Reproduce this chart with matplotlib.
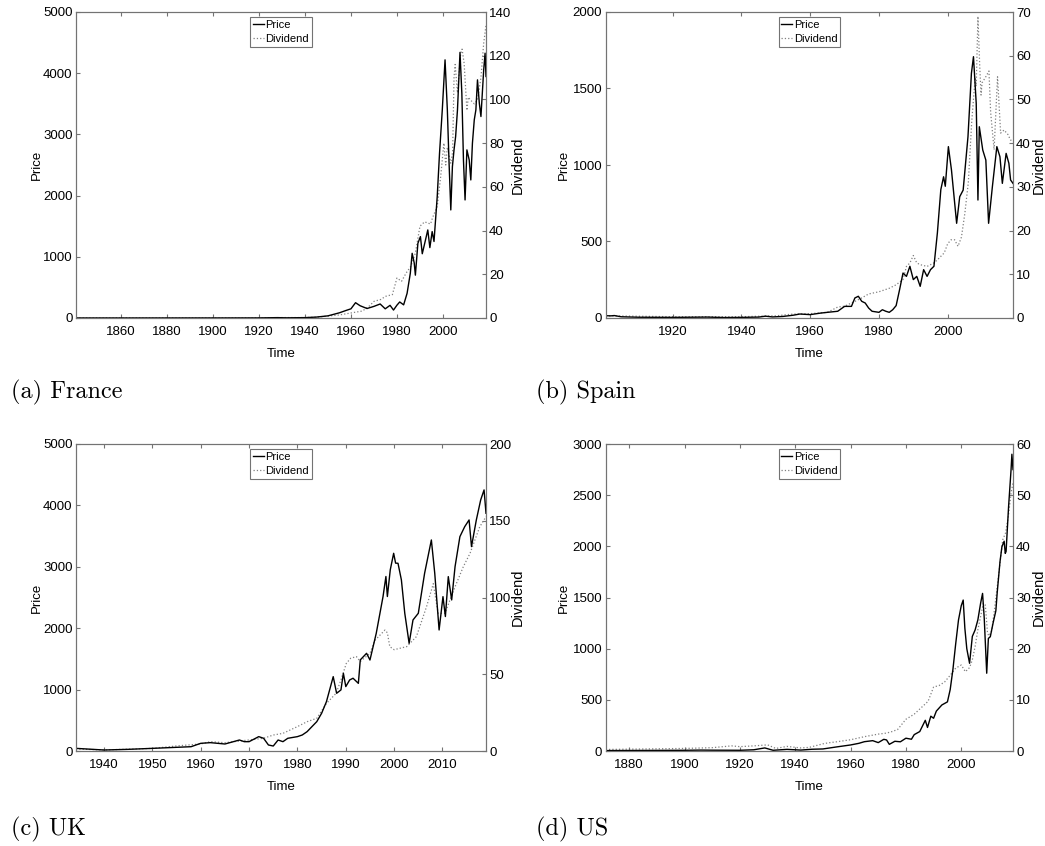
import matplotlib
matplotlib.use('Agg')
import matplotlib.pyplot as plt

# ---- France ----
fr_price_year = [1840.5, 1860, 1880, 1900, 1920, 1928, 1932, 1940, 1945, 1950, 1955, 1958,
                 1960, 1962, 1964, 1967, 1970, 1972.7, 1974.9, 1977, 1978.5, 1980, 1981.2,
                 1982.9, 1984.4, 1985.8, 1986.6, 1987.5, 1988, 1989.1, 1990.2, 1991, 1992.4,
                 1993.4, 1994.3, 1995.3, 1996.1, 1997.5, 1998.5, 1999.7, 2000.9, 2001.9,
                 2002.6, 2003.4, 2004.1, 2004.8, 2005.5, 2006.3, 2007.4, 2008.2, 2008.9,
                 2009.6, 2010.4, 2011.4, 2012.1, 2012.8, 2013.6, 2014.3, 2015, 2015.8,
                 2016.5, 2017.7, 2018.3, 2018.7]
fr_price = [0.3, 0.4, 0.6, 0.8, 1.5, 6, 3, 6, 15, 35, 85, 125,
            150, 250, 200, 155, 190, 229, 150, 207, 130, 210, 262,
            215, 403, 730, 1057, 900, 700, 1221, 1330, 1050, 1275,
            1439, 1150, 1412, 1250, 1984, 2692, 3400, 4218, 3400,
            2583, 1766, 2474, 2747, 2965, 3400, 4340, 3673, 2583,
            1929, 2747, 2583, 2256, 2856, 3237, 3400, 3891, 3510,
            3292, 4055, 4327, 3946]
fr_div_year = [1840.5, 1880, 1920, 1930, 1940, 1945, 1950, 1955, 1960, 1965, 1968, 1970,
               1973, 1975, 1978, 1980, 1982, 1984, 1986, 1988, 1990, 1992, 1994.6, 1995.5,
               1997.5, 1999, 2000.4, 2001.2, 2001.9, 2003.4, 2004.2, 2004.8, 2005.3,
               2006.3, 2007.7, 2008.3, 2009.2, 2010.4, 2011, 2012, 2013.6, 2015, 2016.5,
               2017.7, 2018.7]
fr_div = [0.02, 0.03, 0.05, 0.2, 0.2, 0.4, 0.9, 1.4, 2.3, 3.2, 5.5, 7.6,
          8.5, 9.9, 10.7, 18.3, 16.8, 20.6, 23.6, 29.7, 42, 44, 43, 46,
          51, 64.7, 80, 70, 78, 70.8, 76, 110, 116,
          103, 121, 123, 116.5, 95, 101, 99.7, 98, 99.7, 110,
          125.7, 134]

# ---- Spain ----
es_price_year = [1900.5, 1902, 1903, 1905, 1910, 1920, 1930, 1935, 1940, 1945, 1947, 1949,
                 1952, 1955, 1957, 1960, 1963, 1965, 1968, 1970, 1972, 1973, 1974, 1975,
                 1976, 1977, 1978, 1980, 1981, 1982, 1983, 1984, 1985, 1986, 1987, 1988,
                 1989, 1990, 1991, 1992, 1993, 1994, 1995, 1996, 1997, 1998, 1998.8,
                 1999.3, 2000.2, 2001.1, 2002.6, 2003.5, 2004.5, 2005.9, 2006.9, 2007.5,
                 2008.3, 2008.8, 2009.2, 2010.2, 2011.1, 2011.9, 2013, 2014.3, 2015.2,
                 2015.9, 2017, 2017.8, 2018.3, 2019]
es_price = [15, 14, 16, 8, 5, 4, 6, 3, 4, 6, 12, 7,
            10, 18, 26, 22, 32, 37, 44, 76, 76, 131, 142, 109,
            98, 65, 44, 37, 54, 44, 37, 54, 81, 185, 294, 272,
            338, 251, 272, 207, 316, 272, 316, 338, 556, 839, 923,
            861, 1120, 967, 619, 793, 836, 1185, 1599, 1708,
            1403, 771, 1250, 1098, 1032, 619, 858, 1120, 1054,
            880, 1076, 1011, 902, 880]
es_div_year = [1900.5, 1920, 1940, 1950, 1955, 1960, 1965, 1968, 1970, 1973, 1975, 1977,
               1980, 1983, 1985, 1987, 1988, 1989, 1990, 1991, 1992, 1994, 1996, 1997,
               1998, 1999, 2000, 2001, 2002, 2003, 2004, 2005, 2006, 2007, 2008, 2008.3,
               2008.8, 2009.3, 2009.7, 2010, 2011.1, 2012, 2012.5, 2013.5, 2014.5, 2015.4,
               2016.4, 2017.5, 2018.3, 2019]
es_div = [0.5, 0.3, 0.3, 0.5, 0.9, 1.0, 1.3, 2.5, 2.7, 3.8, 4.6, 5.5,
          6.0, 6.8, 7.6, 8.8, 11.8, 12.6, 14.3, 12.6, 12.2, 11.8, 12.6, 13.3,
          14.1, 14.9, 17, 17.9, 17.9, 16.4, 18.5, 24, 31, 45, 55, 53,
          69, 58, 51, 53.8, 55.2, 56.5, 47, 38.5, 55.2, 42.3,
          43, 42, 40.7, 40.5]

# ---- UK ----
uk_price_year = [1934.2, 1937, 1940, 1945, 1950, 1955, 1958, 1960, 1962, 1965, 1968, 1969,
                 1970, 1972, 1973, 1974, 1975, 1976, 1977, 1978, 1980, 1981, 1982, 1983,
                 1984, 1985, 1986, 1987.4, 1988.1, 1989, 1989.5, 1990, 1990.8, 1991.5,
                 1992.6, 1993, 1994.3, 1995, 1996.3, 1997.7, 1998.3, 1998.6, 1999.2,
                 1999.9, 2000.3, 2000.8, 2001.5, 2002.2, 2003.1, 2003.9, 2005, 2006.3,
                 2007.7, 2008.4, 2009.3, 2010.1, 2010.6, 2011.2, 2011.9, 2012.6, 2013.6,
                 2014.6, 2015.5, 2016, 2017, 2017.9, 2018.6, 2019]
uk_price = [43, 30, 16, 27, 43, 60, 70, 125, 136, 114, 179, 152,
            152, 234, 207, 98, 81, 179, 152, 207, 234, 261, 315, 397,
            478, 614, 804, 1211, 940, 995, 1266, 1049, 1157, 1185,
            1102, 1484, 1591, 1482, 1917, 2514, 2842, 2516, 2951,
            3220, 3060, 3057, 2786, 2243, 1754, 2134, 2243, 2894,
            3437, 2894, 1971, 2514, 2190, 2840, 2460, 3003, 3491,
            3654, 3763, 3329, 3763, 4089, 4252, 3872]
uk_div_year = [1934.2, 1940, 1950, 1955, 1960, 1962, 1965, 1970, 1973, 1975, 1977, 1980,
               1982, 1984, 1986, 1988, 1989, 1990.1, 1991, 1992.2, 1993, 1995, 1996,
               1998.1, 1998.6, 1999.1, 2000, 2002.6, 2004.6, 2006.7, 2008.1, 2009.1,
               2010.5, 2012.6, 2014.3, 2015.7, 2017.7, 2019]
uk_div = [1.3, 0.7, 1.7, 3.3, 4.6, 6.1, 5.4, 7.2, 8.3, 10.4, 11.5, 15.9,
          19.1, 21.3, 31, 37.6, 46.3, 57, 60.4, 61.5, 58.3, 63.6, 72,
          78.8, 77, 68, 66, 68, 74.5, 94, 109, 89.7,
          89.7, 107, 120, 128.8, 146, 152.7]

# ---- US ----
us_price_year = [1871.5, 1880, 1890, 1900, 1906, 1910, 1920, 1925, 1929, 1932, 1937, 1942,
                 1946, 1950, 1955, 1960, 1963, 1965, 1968, 1970, 1972, 1973, 1974, 1976,
                 1978, 1980, 1982, 1983, 1985, 1987, 1987.8, 1989, 1990, 1991, 1993, 1995,
                 1996, 1997, 1998, 1999, 2000, 2000.7, 2001.3, 2002, 2003, 2004, 2005,
                 2006, 2007, 2007.7, 2008.3, 2008.8, 2009.2, 2009.8, 2010.5, 2011.5,
                 2012.5, 2013, 2014, 2014.7, 2015.5, 2015.9, 2016.2, 2017.1, 2018,
                 2018.3, 2018.7]
us_price = [4, 5, 6, 7, 9, 8, 7, 12, 30, 7, 16, 9,
            17, 20, 40, 59, 75, 91, 101, 82, 114, 108, 65, 95,
            90, 125, 115, 160, 190, 300, 230, 340, 320, 390, 450, 480,
            600, 800, 1050, 1280, 1420, 1475, 1200, 1000, 857, 1120, 1182,
            1281, 1445, 1540, 1300, 1000, 760, 1100, 1117, 1250,
            1370, 1550, 1850, 1997, 2050, 1931, 1950, 2387, 2750,
            2900, 2750]
us_div_year = [1871.5, 1900, 1910, 1917, 1920, 1925, 1930, 1933, 1937, 1942, 1945, 1950,
               1952, 1955, 1960, 1965, 1968, 1970, 1973, 1975, 1977, 1980, 1983, 1985,
               1988, 1990, 1992, 1994, 1996, 1998, 2000, 2001.5, 2003, 2004, 2005, 2006,
               2007, 2008, 2008.7, 2009.5, 2010, 2011, 2012, 2013, 2014, 2015, 2016,
               2017, 2018, 2018.7]
us_div = [0.3, 0.5, 0.65, 1.0, 0.85, 1.0, 1.2, 0.5, 0.9, 0.6, 0.7, 1.4,
          1.6, 1.8, 2.2, 2.8, 3.1, 3.3, 3.5, 3.8, 4.2, 6.2, 7.2, 8.2,
          9.7, 12.5, 12.8, 13.5, 14.8, 16.2, 16.8, 15.5, 16.3, 17.8, 20.4, 23.7,
          26.3, 28.9, 28.5, 23, 22.5, 23.5, 27.6, 32.1, 36.7, 41.3, 42.6,
          45.8, 50.4, 52.4]

# axis ticks per panel
fr_xticks = [1860, 1880, 1900, 1920, 1940, 1960, 1980, 2000]
es_xticks = [1920, 1940, 1960, 1980, 2000]
uk_xticks = [1940, 1950, 1960, 1970, 1980, 1990, 2000, 2010]
us_xticks = [1880, 1900, 1920, 1940, 1960, 1980, 2000]
fr_pticks = [0, 1000, 2000, 3000, 4000, 5000]
es_pticks = [0, 500, 1000, 1500, 2000]
uk_pticks = [0, 1000, 2000, 3000, 4000, 5000]
us_pticks = [0, 500, 1000, 1500, 2000, 2500, 3000]
fr_dticks = [0, 20, 40, 60, 80, 100, 120, 140]
es_dticks = [0, 10, 20, 30, 40, 50, 60, 70]
uk_dticks = [0, 50, 100, 150, 200]
us_dticks = [0, 10, 20, 30, 40, 50, 60]

SANS = 'Liberation Sans'
tick_fs = 9.5

W, H = 1045, 846
fig = plt.figure(figsize=(W / 100, H / 100), dpi=100)
GRAY = '0.45'


def panel(rect, py, p, dy, d, xticks, pticks, dticks, caption, cap_xy, lab_x):
    ax = fig.add_axes(rect)
    ax2 = ax.twinx()
    ax.set_zorder(ax2.get_zorder() + 1)
    ax.patch.set_visible(False)

    l1, = ax.plot(py, p, color='k', lw=1.0)
    l2, = ax2.plot(dy, d, color='0.5', lw=0.9, ls=':')

    ax.set_xlim(min(py[0], dy[0]), max(py[-1], dy[-1]))
    ax.set_xticks(xticks)
    ax.set_ylim(pticks[0], pticks[-1])
    ax.set_yticks(pticks)
    ax2.set_ylim(dticks[0], dticks[-1])
    ax2.set_yticks(dticks)

    for a in (ax, ax2):
        for s in a.spines.values():
            s.set_color(GRAY)
            s.set_linewidth(0.8)
    ax.tick_params(axis='x', direction='in', length=3, color=GRAY, top=True,
                   pad=6, labelsize=tick_fs, labelfontfamily=SANS)
    ax.tick_params(axis='y', direction='in', length=3, color=GRAY, right=False,
                   pad=2.5, labelsize=tick_fs, labelfontfamily=SANS)
    ax2.tick_params(axis='y', direction='in', length=3, color=GRAY,
                    pad=2.2, labelsize=tick_fs, labelfontfamily=SANS)

    h = rect[3] * H
    ax.set_xlabel('Time', family=SANS, fontsize=tick_fs, va='center', ha='center')
    ax.xaxis.set_label_coords(0.5, -36 / h)
    ax.set_ylabel('Price', family=SANS, fontsize=tick_fs, va='center', ha='center')
    ax.yaxis.set_label_coords(lab_x[0], 0.5)
    ax2.set_ylabel('Dividend', family=SANS, fontsize=10.5, va='center', ha='center')
    ax2.yaxis.set_label_coords(lab_x[1], 0.5)

    leg = ax.legend([l1, l2], ['Price', 'Dividend'], loc='upper center',
                    prop={'family': SANS, 'size': 8}, fancybox=False,
                    framealpha=1, edgecolor=GRAY, borderpad=0.25,
                    labelspacing=0.4, handlelength=1.0, handletextpad=0.12,
                    borderaxespad=0.45)
    leg.get_frame().set_linewidth(0.8)

    fig.text(cap_xy[0] / W, 1 - cap_xy[1] / H, caption, family='cmr10',
             fontsize=17.5, va='center', ha='left')
    return ax


left_x, right_x = 76 / W, 605.7 / W
lw_, rw_ = 410 / W, 407.3 / W
top_y, bot_y = 1 - 318 / H, 1 - 751 / H

panel([left_x, top_y, lw_, 306 / H], fr_price_year, fr_price, fr_div_year, fr_div,
      fr_xticks, fr_pticks, fr_dticks, '(a) France', (11, 392), (-0.095, 1.078))
panel([right_x, top_y, rw_, 306 / H], es_price_year, es_price, es_div_year, es_div,
      es_xticks, es_pticks, es_dticks, '(b) Spain', (536, 392), (-0.102, 1.0625))
panel([left_x, bot_y, lw_, 307 / H], uk_price_year, uk_price, uk_div_year, uk_div,
      uk_xticks, uk_pticks, uk_dticks, '(c) UK', (11, 829), (-0.095, 1.078))
panel([right_x, bot_y, rw_, 307 / H], us_price_year, us_price, us_div_year, us_div,
      us_xticks, us_pticks, us_dticks, '(d) US', (536, 829), (-0.102, 1.0625))

fig.savefig('out.png', dpi=100)
